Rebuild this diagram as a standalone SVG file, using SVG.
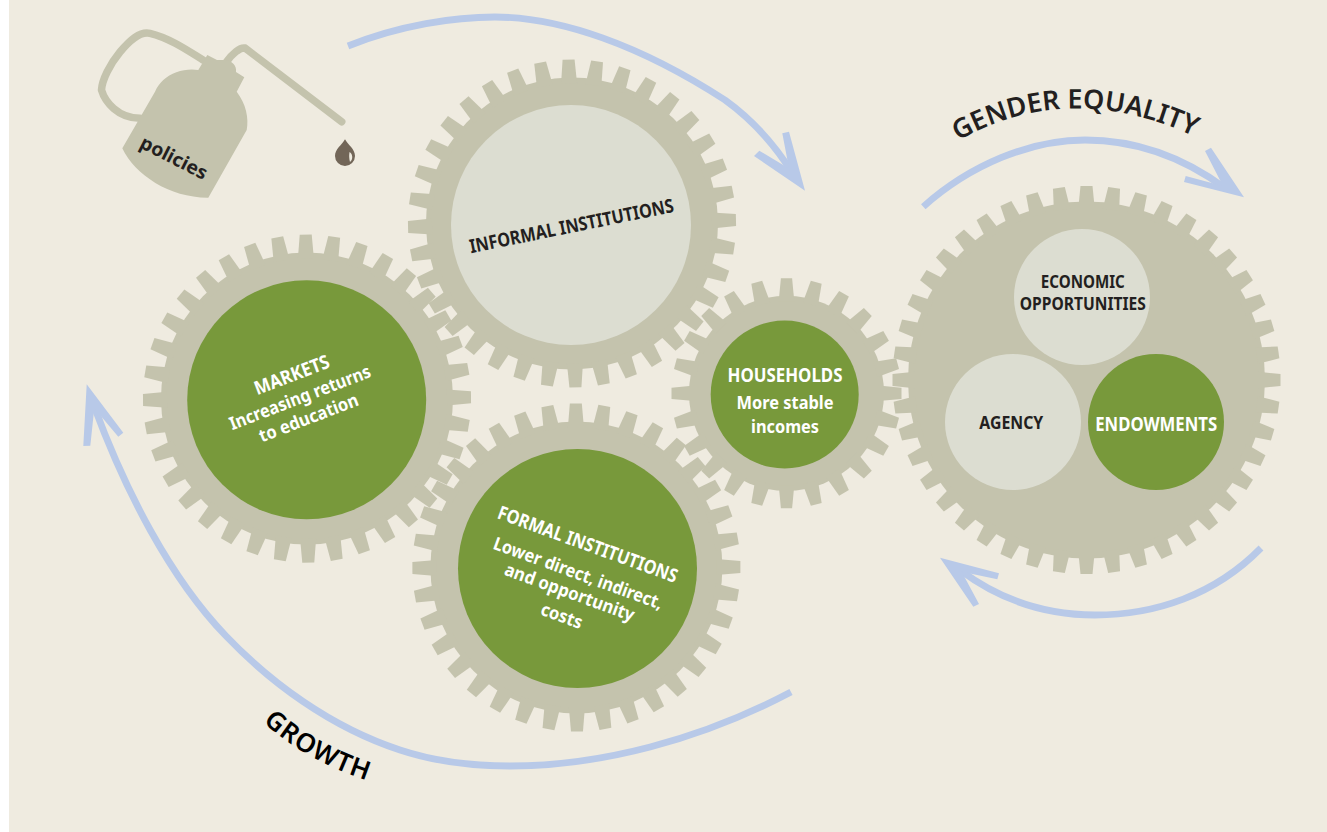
<svg xmlns="http://www.w3.org/2000/svg" xmlns:xlink="http://www.w3.org/1999/xlink" width="1327" height="832" viewBox="0 0 1327 832">
<style>
.gear{fill:#c4c3ad}
.green{fill:#78993b}
.light{fill:#dcddd1}
.shaft{fill:none;stroke:#b8c9e8;stroke-width:6.800}
.head{fill:#b8c9e8}
.can{fill:none;stroke:#c4c3ad;stroke-width:7.500;stroke-linecap:round;stroke-linejoin:round}
text{font-family:"Noto Sans","Open Sans","Liberation Sans",sans-serif;font-weight:700;text-anchor:middle}
.dark{fill:#231f20}
.white{fill:#ffffff}
.s17{font-size:18px}
.s18{font-size:19px}
.curve{font-weight:600;text-anchor:start}
</style>
<defs>
<path id="t164" d="M-8 -140L-6 -164H6L8 -140Z"/>
<g id="q36"><use href="#t164"/><use href="#t164" transform="rotate(10)"/><use href="#t164" transform="rotate(20)"/><use href="#t164" transform="rotate(30)"/><use href="#t164" transform="rotate(40)"/><use href="#t164" transform="rotate(50)"/><use href="#t164" transform="rotate(60)"/><use href="#t164" transform="rotate(70)"/><use href="#t164" transform="rotate(80)"/></g>
<g id="teeth36"><use href="#q36"/><use href="#q36" transform="rotate(90)"/><use href="#q36" transform="rotate(180)"/><use href="#q36" transform="rotate(270)"/></g>
<path id="t115" d="M-7.800 -92L-5.600 -115H5.600L7.800 -92Z"/>
<g id="q24"><use href="#t115"/><use href="#t115" transform="rotate(15)"/><use href="#t115" transform="rotate(30)"/><use href="#t115" transform="rotate(45)"/><use href="#t115" transform="rotate(60)"/><use href="#t115" transform="rotate(75)"/></g>
<g id="teeth24"><use href="#q24"/><use href="#q24" transform="rotate(90)"/><use href="#q24" transform="rotate(180)"/><use href="#q24" transform="rotate(270)"/></g>
<path id="t194" d="M-8.200 -172L-6 -194H6L8.200 -172Z"/>
<g id="q44"><use href="#t194"/><use href="#t194" transform="rotate(8.18)"/><use href="#t194" transform="rotate(16.36)"/><use href="#t194" transform="rotate(24.55)"/><use href="#t194" transform="rotate(32.73)"/><use href="#t194" transform="rotate(40.91)"/><use href="#t194" transform="rotate(49.09)"/><use href="#t194" transform="rotate(57.27)"/><use href="#t194" transform="rotate(65.45)"/><use href="#t194" transform="rotate(73.64)"/><use href="#t194" transform="rotate(81.82)"/></g>
<g id="teeth44"><use href="#q44"/><use href="#q44" transform="rotate(90)"/><use href="#q44" transform="rotate(180)"/><use href="#q44" transform="rotate(270)"/></g>
<path id="gender-path" d="M958 141Q1069 77.500 1198 138"/>
<path id="growth-path" d="M263 722Q310 765 385 786"/>
</defs>
<rect width="1327" height="832" fill="#ffffff"/>
<rect x="9" width="1318" height="832" fill="#efebe0"/>

<g id="connectors">
<path class="shaft" d="M348 46C400 25 455 17 495 17C560 17 640 45 725 100C750 118 775 145 793 174"/>
<polygon class="head" points="805,190.700 754,156 759.300,150.700 789,168.500 782.300,133.300 789,131.700"/>
<path class="shaft" d="M923.300 206.700C970 165 1030 140 1085 140C1135 140 1180 155 1225 188"/>
<polygon class="head" points="1244,197.300 1184,182 1185.700,176 1223,186 1205,151 1211,147.700"/>
<path class="shaft" d="M1261 548C1215 595 1155 615 1095 615C1045 615 1000 600 960 570"/>
<polygon class="head" points="940,557.700 999,573.300 997.300,579.300 961.700,571.700 979,604 973.300,606.700"/>
<path class="shaft" d="M791 692C700 740 600 766 510 766C470 766 430 760 400 750C330 727 270 682 226 636C170 578 125 490 94 406"/>
<polygon class="head" points="86.700,384.300 123.300,432.700 118.300,436.700 94.300,408.300 90.300,445.700 83.300,446"/>
</g>

<g id="policies">
<path class="can" d="M203 60C190 52 170 38 150 33.300C140 31 130 40 120 52C110 64 102 80 101.500 90C105 102 118 118 140 118.300"/>
<path class="can" d="M226.700 61.700C232 54 240 47 245 48L341.700 121.700"/>
<path class="gear" d="M122.300 148.300C135 175 170 198 208.300 197.700L246.700 130C249 118 246 104 236.700 91.700L244.300 77.300L236 72C237 66 232 60 224 60H217L207.300 55L198.300 70C186 68 172 72 163.300 80C160 83 157 87 155 91.700Z"/>
<text class="dark" font-size="19" transform="translate(171 163.500) rotate(27)" textLength="73" lengthAdjust="spacingAndGlyphs">policies</text>
</g>
<g id="drop">
<path d="M345 139.300C348 145 355 149 355 156A10 10 0 0 1 335 156C335 149 342 145 345 139.300Z" fill="#726658"/>
<path d="M349.500 152C352.500 153.500 353.500 159 350 162C349 159 349 155 349.500 152Z" fill="#efebe0"/>
</g>

<g id="gear-informal">
<g transform="translate(572 223.500) rotate(-1.200)" class="gear"><circle r="146"/><use href="#teeth36"/></g>
<circle class="light" cx="571" cy="225" r="120"/>
<text class="dark s18" transform="translate(572.800 232.500) rotate(-11.500)" textLength="208" lengthAdjust="spacingAndGlyphs">INFORMAL INSTITUTIONS</text>
</g>

<g id="gear-markets">
<g transform="translate(307 398.600) rotate(-0.450)" class="gear"><circle r="146"/><use href="#teeth36"/></g>
<circle class="green" cx="306.700" cy="399.800" r="119.500"/>
<text class="white s18" transform="translate(294.200 381) rotate(-21)" textLength="79" lengthAdjust="spacingAndGlyphs">MARKETS</text>
<text class="white s17" transform="translate(302.200 403.300) rotate(-21)" textLength="150" lengthAdjust="spacingAndGlyphs">Increasing returns</text>
<text class="white s17" transform="translate(310.800 423.700) rotate(-21)" textLength="105" lengthAdjust="spacingAndGlyphs">to education</text>
</g>

<g id="gear-formal">
<g transform="translate(576.400 567.500) rotate(-0.200)" class="gear"><circle r="146"/><use href="#teeth36"/></g>
<circle class="green" cx="577.500" cy="568.500" r="119.500"/>
<text class="white s18" transform="translate(585.500 550.500) rotate(20)" textLength="190" lengthAdjust="spacingAndGlyphs">FORMAL INSTITUTIONS</text>
<text class="white s17" transform="translate(576 579) rotate(20)" textLength="179" lengthAdjust="spacingAndGlyphs">Lower direct, indirect,</text>
<text class="white s17" transform="translate(567.500 598) rotate(20)" textLength="137" lengthAdjust="spacingAndGlyphs">and opportunity</text>
<text class="white s17" transform="translate(559.700 621.700) rotate(20)" textLength="43" lengthAdjust="spacingAndGlyphs">costs</text>
</g>

<g id="gear-households">
<g transform="translate(786.500 393.300)" class="gear"><circle r="97.500"/><use href="#teeth24"/></g>
<circle class="green" cx="784.700" cy="394.500" r="74"/>
<text class="white s18" x="785" y="381.700" textLength="115" lengthAdjust="spacingAndGlyphs">HOUSEHOLDS</text>
<text class="white s17" x="785" y="409" textLength="97" lengthAdjust="spacingAndGlyphs">More stable</text>
<text class="white s17" x="785" y="432.700" textLength="68" lengthAdjust="spacingAndGlyphs">incomes</text>
</g>

<g id="gear-gender">
<g transform="translate(1086.500 380)" class="gear"><circle r="178.500"/><use href="#teeth44"/></g>
<g id="economic-opportunities">
<circle class="light" cx="1082" cy="297" r="68"/>
<text class="dark s17" x="1082.800" y="287.700" textLength="84" lengthAdjust="spacingAndGlyphs">ECONOMIC</text>
<text class="dark s17" x="1082.800" y="310" textLength="126" lengthAdjust="spacingAndGlyphs">OPPORTUNITIES</text>
</g>
<g id="agency">
<circle class="light" cx="1013" cy="422" r="68"/>
<text class="dark s17" x="1011.300" y="429" textLength="64" lengthAdjust="spacingAndGlyphs">AGENCY</text>
</g>
<g id="endowments">
<circle class="green" cx="1156" cy="422" r="68"/>
<text class="white s18" x="1156.200" y="431" textLength="122" lengthAdjust="spacingAndGlyphs">ENDOWMENTS</text>
</g>
</g>

<text class="dark curve" font-size="27" textLength="246"><textPath href="#gender-path">GENDER EQUALITY</textPath></text>
<text class="curve" fill="#000000" font-size="26" textLength="120"><textPath href="#growth-path">GROWTH</textPath></text>
</svg>
